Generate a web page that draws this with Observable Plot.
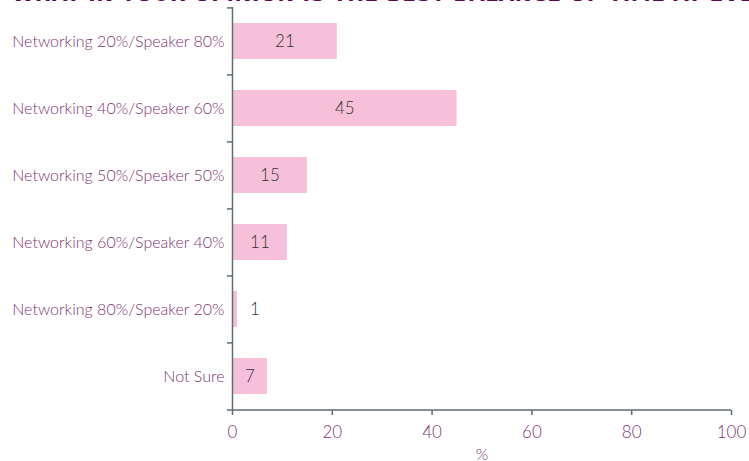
<!DOCTYPE html>
<html>
<head>
<meta charset="utf-8">
<script src="https://cdn.jsdelivr.net/npm/d3@7"></script>
<script src="https://cdn.jsdelivr.net/npm/@observablehq/plot@0.6"></script>
<style>
  html, body { margin: 0; padding: 0; background: #fff; overflow: hidden; }
  #wrap { position: relative; width: 749px; height: 461px; overflow: hidden; }
  #title { position: absolute; left: 12px; top: -16px; white-space: nowrap;
    font-family: "DejaVu Sans", sans-serif; font-weight: bold; font-size: 20px; line-height: 20px;
    color: #5c0a50; letter-spacing: 0.6px; }
  #chart { position: absolute; left: 0; top: 0; }
</style>
</head>
<body>
<div id="wrap">
  <div id="title">WHAT IN YOUR OPINION IS THE BEST BALANCE OF TIME AT EVENTS</div>
  <div id="chart"></div>
</div>
<script>
const categories = [
  "Networking 20%/Speaker 80%",
  "Networking 40%/Speaker 60%",
  "Networking 50%/Speaker 50%",
  "Networking 60%/Speaker 40%",
  "Networking 80%/Speaker 20%",
  "Not Sure"
];
const values = [21, 45, 15, 11, 1, 7];
const xTicks = [0, 20, 40, 60, 80, 100];
const xLabel = "%";

const data = categories.map((c, i) => ({category: c, value: values[i]}));

const W = 749, H = 461;
const mTop = 7, mBottom = 51, mLeft = 232, mRight = 18;
const step = (H - mTop - mBottom) / categories.length;
const font = "Lato, 'Open Sans', sans-serif";
const purple = "#7e3574";
const axisColor = "#5f6b73";

const chart = Plot.plot({
  width: W, height: H,
  marginTop: mTop, marginBottom: mBottom, marginLeft: mLeft, marginRight: mRight,
  style: {fontFamily: font, fontSize: "16px", background: "transparent"},
  x: {domain: [0, 100], ticks: xTicks, label: null},
  y: {domain: categories, paddingInner: 0.46, paddingOuter: 0.23, label: null},
  marks: [
    Plot.barX(data, {x: "value", y: "category", fill: "#f7c0d9"}),
    Plot.text(data, {
      x: d => d.value < 3 ? d.value + 3.5 : d.value / 2,
      y: "category", text: d => String(d.value),
      fill: "#333333", fontSize: 17, fontWeight: 300
    }),
    // y axis line
    Plot.ruleX([0], {stroke: axisColor, strokeWidth: 1.5}),
    // x axis line
    Plot.ruleY([0], {y: () => categories[categories.length - 1], x1: -1, x2: 100, dy: step / 2, stroke: axisColor, strokeWidth: 1.5}),
    // boundary ticks on y axis
    Plot.ruleY(categories, {y: d => d, x1: -1, x2: 0, dy: -step / 2, stroke: axisColor, strokeWidth: 1.5}),
    // y tick labels
    Plot.axisY({tickSize: 0, tickPadding: 8, fill: purple, fontSize: 16, fontWeight: 300, label: null}),
    // x ticks and labels
    Plot.axisX({ticks: xTicks, tickSize: 5, tickPadding: 10, stroke: axisColor, strokeWidth: 1.5, fill: purple, fontSize: 17, fontWeight: 300, label: null}),
    Plot.text([xLabel], {frameAnchor: "bottom", dy: 49, fill: purple, fontSize: 16, fontWeight: 300, text: d => d})
  ]
});
document.getElementById("chart").appendChild(chart);
</script>
</body>
</html>
